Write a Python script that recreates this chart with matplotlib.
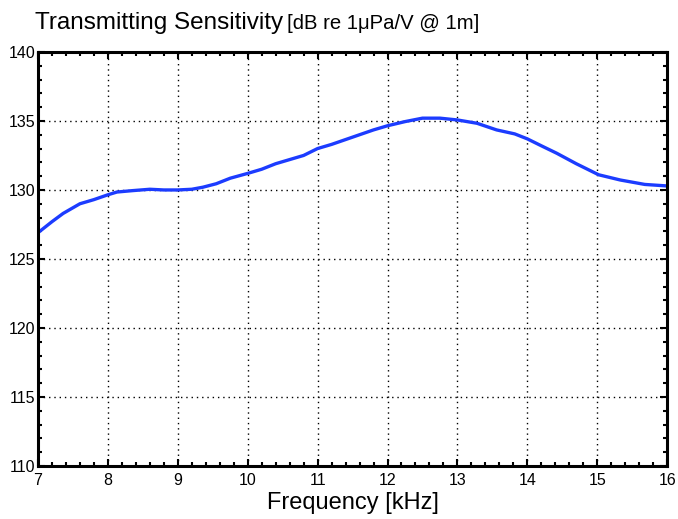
import numpy as np
import matplotlib
matplotlib.use("Agg")
import matplotlib.pyplot as plt
from matplotlib.ticker import MultipleLocator

# frequency [kHz] and transmitting sensitivity [dB re 1uPa/V @ 1m]
freq = [7.0, 7.2, 7.36, 7.6, 7.8, 8.0, 8.13, 8.35, 8.6, 8.8, 9.0, 9.2, 9.36, 9.55,
        9.75, 10.0, 10.2, 10.4, 10.6, 10.8, 11.0, 11.2, 11.4, 11.6, 11.8, 12.0,
        12.25, 12.5, 12.75, 13.0, 13.28, 13.56, 13.82, 14.0, 14.2, 14.42, 14.7,
        15.02, 15.33, 15.68, 16.0]
tvr = [126.9, 127.7, 128.3, 129.0, 129.3, 129.65, 129.85, 129.95, 130.05, 130.0,
       130.0, 130.05, 130.2, 130.45, 130.85, 131.2, 131.5, 131.9, 132.2, 132.5,
       133.0, 133.3, 133.65, 134.0, 134.35, 134.65, 134.95, 135.2, 135.2, 135.07,
       134.83, 134.35, 134.06, 133.7, 133.2, 132.66, 131.9, 131.1, 130.72,
       130.4, 130.29]

plt.rcParams['font.family'] = ['Liberation Sans', 'DejaVu Sans']

fig = plt.figure(figsize=(6.78, 5.19), dpi=100)
ax = fig.add_axes([0.056, 0.102, 0.928, 0.798])

ax.plot(freq, tvr, color='#1c3cff', linewidth=2.4)

ax.set_xlim(7, 16)
ax.set_ylim(110, 140)
ax.xaxis.set_major_locator(MultipleLocator(1))
ax.xaxis.set_minor_locator(MultipleLocator(0.2))
ax.yaxis.set_major_locator(MultipleLocator(5))
ax.yaxis.set_minor_locator(MultipleLocator(1))

ax.grid(True, which='major', color='black', linestyle=(0, (1, 2.8)), linewidth=1.0)
ax.tick_params(which='both', direction='in', top=True, right=True, labelsize=11.5,
               width=1.5)
ax.tick_params(axis='x', pad=5)
ax.tick_params(axis='y', pad=2)
ax.tick_params(which='major', length=5)
ax.tick_params(which='minor', length=3)
for s in ax.spines.values():
    s.set_linewidth(2.2)

ax.set_xlabel('Frequency [kHz]', fontsize=17, labelpad=3)

fig.text(0.052, 0.945, 'Transmitting Sensitivity', fontsize=17.5, ha='left', va='baseline')
fig.text(0.424, 0.945, '[dB re 1\u03bcPa/V @ 1m]', fontsize=14.6, ha='left', va='baseline')

fig.savefig('out.png', dpi=100)
